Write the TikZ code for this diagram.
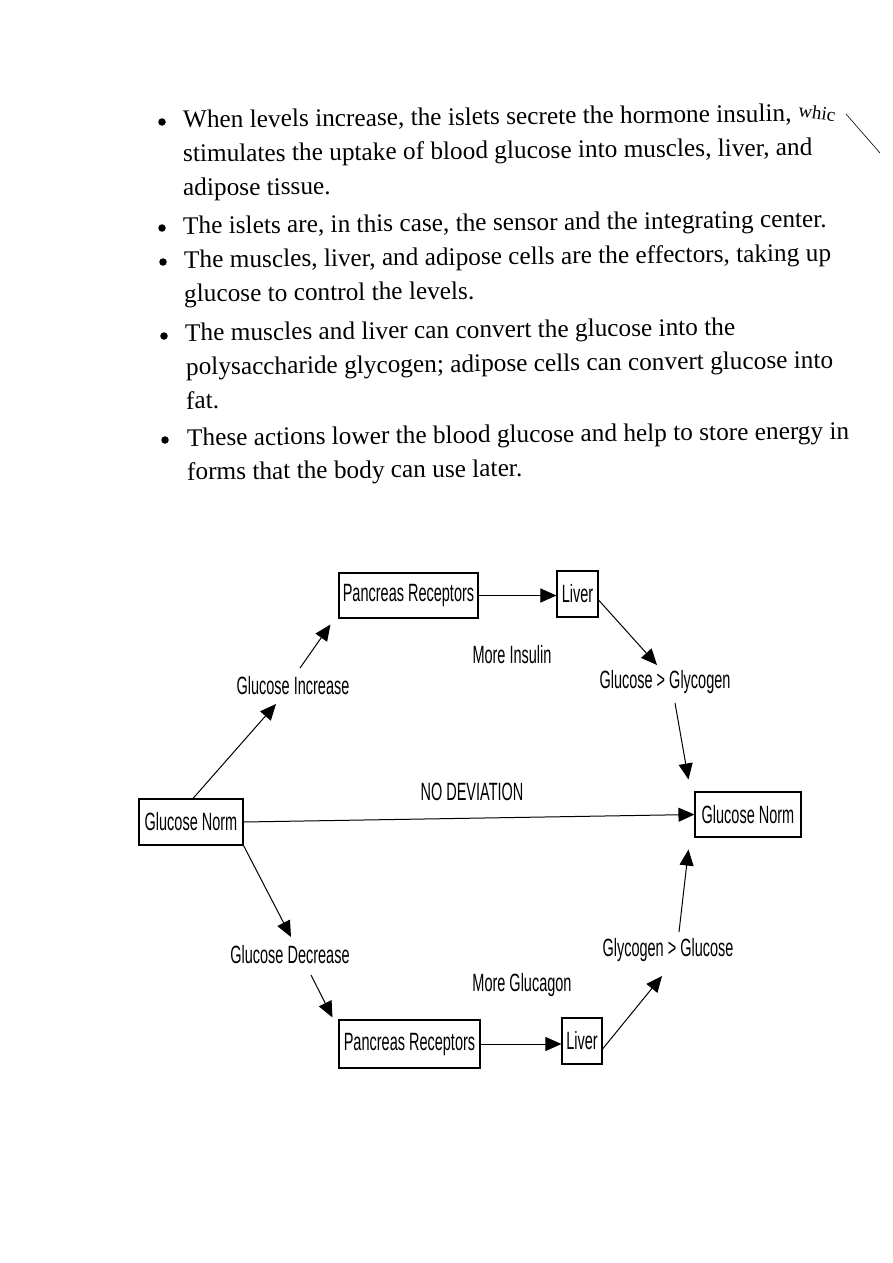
\documentclass[tikz,border=0pt]{standalone}
\usepackage{fontspec}
\setmainfont{Liberation Serif}
\newfontfamily\diagfont[FakeStretch=0.58]{Liberation Sans}
\usetikzlibrary{arrows.meta}
\begin{document}
\begin{tikzpicture}[x=1pt,y=-1pt,
  txt/.style={anchor=base west, inner sep=0pt, rotate=0.6, font=\fontsize{25.3}{30}\selectfont},
  bul/.style={circle, fill=black, inner sep=0pt, minimum size=7.5pt},
  box/.style={draw, line width=1.1pt, inner sep=0pt, font=\diagfont\fontsize{25}{30}\selectfont},
  lbl/.style={inner sep=1pt, font=\diagfont\fontsize{25}{30}\selectfont},
  arr/.style={line width=1pt, -{Triangle[length=16pt,width=14pt]}},
]
\fill[white] (0,0) rectangle (893,1263);
\path[use as bounding box] (0,0) rectangle (893,1263);

% ---------- bullet text ----------
\node[bul] (b1) at (162,122) {};
\node[txt] (t1) at (183,128) {When levels increase, the islets secrete the hormone insulin, \raisebox{5pt}{\rotatebox[origin=lB]{-9}{\fontsize{19}{21}\selectfont whic}}};
\coordinate (s1) at (846,114);
\coordinate (s2) at (880,153);
\draw[line width=0.6pt] (s1) -- (s2);
\node[txt] (t2) at (183,162) {stimulates the uptake of blood glucose into muscles, liver, and};
\node[txt] (t3) at (183,196) {adipose tissue.};
\node[bul] (b2) at (162,228) {};
\node[txt] (t4) at (183,234) {The islets are, in this case, the sensor and the integrating center.};
\node[bul] (b3) at (163,262) {};
\node[txt] (t5) at (184,268) {The muscles, liver, and adipose cells are the effectors, taking up};
\node[txt] (t6) at (184,302) {glucose to control the levels.};
\node[bul] (b4) at (164,336) {};
\node[txt] (t7) at (185,341) {The muscles and liver can convert the glucose into the};
\node[txt] (t8) at (186,375) {polysaccharide glycogen; adipose cells can convert glucose into};
\node[txt] (t9) at (186,409) {fat.};
\node[bul] (b5) at (165,440) {};
\node[txt] (t10) at (187,446) {These actions lower the blood glucose and help to store energy in};
\node[txt] (t11) at (187,480) {forms that the body can use later.};

% ---------- diagram boxes ----------
\node[box, minimum width=139pt, minimum height=45pt] (PRt) at (408.5,595.5) {Pancreas Receptors};
\node[box, minimum width=41pt, minimum height=46pt] (Lt) at (577.5,594) {Liver};
\node[box, minimum width=104pt, minimum height=46pt] (GNl) at (191,822) {Glucose Norm};
\node[box, minimum width=106pt, minimum height=45pt] (GNr) at (748,814.5) {Glucose Norm};
\node[box, minimum width=141pt, minimum height=48pt] (PRb) at (409.5,1044) {Pancreas Receptors};
\node[box, minimum width=40pt, minimum height=46pt] (Lb) at (582,1041) {Liver};

% ---------- labels ----------
\node[lbl] (MI) at (512,655) {More Insulin};
\node[lbl] (GG) at (665,682) {Glucose > Glycogen};
\node[lbl] (GI) at (293,686) {Glucose Increase};
\node[lbl] (ND) at (472,792) {NO DEVIATION};
\node[lbl] (GD) at (290,955) {Glucose Decrease};
\node[lbl] (MG) at (522,985) {More Glucagon};
\node[lbl] (YG) at (668,950) {Glycogen > Glucose};

% ---------- free ends at labels ----------
\coordinate (ggIn)  at (657,665);
\coordinate (ggOut) at (675,703);
\coordinate (giIn)  at (276,704);
\coordinate (giOut) at (300,668);
\coordinate (gdIn)  at (291,937);
\coordinate (gdOut) at (311,975);
\coordinate (ygIn)  at (662,976);
\coordinate (ygOut) at (679,932);

% ---------- connectors ----------
\draw[arr] (PRt.east) -- (Lt.west |- PRt.east);
\draw[arr] ([yshift=-6pt]Lt.east) -- (ggIn);
\draw[arr] (ggOut) -- ([xshift=-6pt,yshift=12pt]GNr.north west);
\draw[arr] (GNl.east) -- (GNr.west);
\draw[arr] ([xshift=2pt]GNl.north) -- (giIn);
\draw[arr] (giOut) -- ([xshift=-8pt,yshift=-6pt]PRt.south west);
\draw[arr] (GNl.south east) -- (gdIn);
\draw[arr] (gdOut) -- ([xshift=-6pt,yshift=2pt]PRb.north west);
\draw[arr] (PRb.east) -- (Lb.west |- PRb.east);
\draw[arr] ([yshift=-8pt]Lb.east) -- (ygIn);
\draw[arr] (ygOut) -- ([xshift=-6pt,yshift=-12pt]GNr.south west);
\end{tikzpicture}
\end{document}
